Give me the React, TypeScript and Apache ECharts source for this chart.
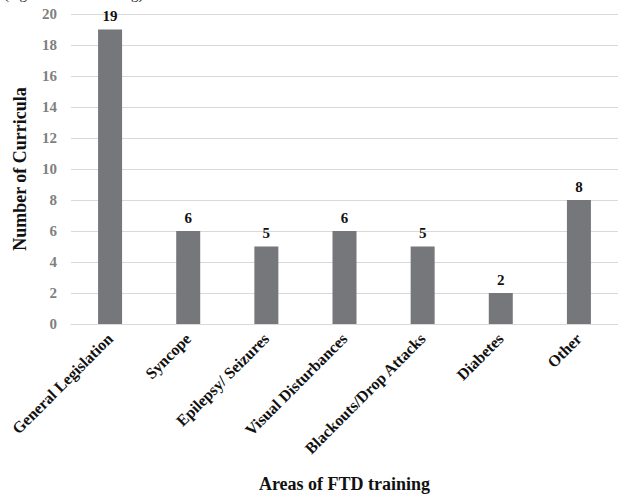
import React, { useEffect, useRef } from "react";
import * as echarts from "echarts";

const categories = [
  "General Legislation",
  "Syncope",
  "Epilepsy/ Seizures",
  "Visual Disturbances",
  "Blackouts/Drop Attacks",
  "Diabetes",
  "Other",
];
const values = [19, 6, 5, 6, 5, 2, 8];
const yTicks = { min: 0, max: 20, interval: 2 };
const xName = "Areas of FTD training";
const yName = "Number of Curricula";
const clippedCaption = "(e.g. drink and driving)";

const SERIF = "'Liberation Serif', 'Times New Roman', serif";

export default function App() {
  const ref = useRef<HTMLDivElement>(null);
  useEffect(() => {
    if (!ref.current) return;
    const chart = echarts.init(ref.current, undefined, { renderer: "svg" });
    chart.setOption({
      animation: false,
      grid: { left: 71, width: 557, top: 14, height: 315, containLabel: false },
      graphic: [
        {
          type: "text",
          x: 4,
          y: 1,
          style: {
            text: clippedCaption,
            font: `15px ${SERIF}`,
            fill: "#222",
            verticalAlign: "bottom",
          },
        },
      ],
      xAxis: {
        type: "category",
        data: categories,
        name: xName,
        nameLocation: "middle",
        nameGap: 151,
        nameTextStyle: { fontFamily: SERIF, fontWeight: "bold", fontSize: 18, color: "#111" },
        axisLine: { lineStyle: { color: "#d9d9d9", width: 1 } },
        axisTick: { show: false },
        axisLabel: {
          rotate: 45,
          interval: 0,
          margin: 12,
          fontFamily: SERIF,
          fontWeight: "bold",
          fontSize: 16,
          color: "#111",
        },
      },
      yAxis: {
        type: "value",
        min: yTicks.min,
        max: yTicks.max,
        interval: yTicks.interval,
        name: yName,
        nameLocation: "middle",
        nameGap: 42,
        nameTextStyle: { fontFamily: SERIF, fontWeight: "bold", fontSize: 18, color: "#111" },
        axisLine: { show: false },
        axisTick: { show: false },
        splitLine: { lineStyle: { color: "#d9d9d9", width: 1 } },
        axisLabel: {
          margin: 14,
          fontFamily: SERIF,
          fontWeight: "bold",
          fontSize: 15,
          color: "#7f7f7f",
        },
      },
      series: [
        {
          type: "bar",
          data: values,
          barWidth: 24,
          itemStyle: { color: "#76777b" },
          label: {
            show: true,
            position: "top",
            distance: 6,
            fontFamily: SERIF,
            fontWeight: "bold",
            fontSize: 15,
            color: "#111",
          },
        },
      ],
    });
    return () => chart.dispose();
  }, []);
  return (
    <div
      ref={ref}
      style={{ position: "absolute", left: 0, top: 0, width: 618, height: 498 }}
    />
  );
}
